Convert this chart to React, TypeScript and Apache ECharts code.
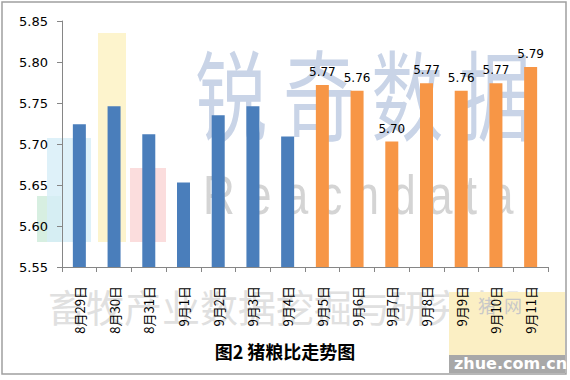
import React, { useEffect, useRef } from "react";
import * as echarts from "echarts";

const categories = ["8月29日", "8月30日", "8月31日", "9月1日", "9月2日", "9月3日", "9月4日", "9月5日", "9月6日", "9月7日", "9月8日", "9月9日", "9月10日", "9月11日"];
const augValues = [5.724, 5.746, 5.712, 5.653, 5.735, 5.746, 5.709];
const sepValues = [5.772, 5.765, 5.703, 5.774, 5.765, 5.774, 5.794];
const yTicks = { min: 5.55, max: 5.85, interval: 0.05 };
const title = "图2 猪粮比走势图";

export default function App() {
  const ref = useRef<HTMLDivElement>(null);
  useEffect(() => {
    const chart = echarts.init(ref.current!, undefined, { renderer: "svg" });
    const n = augValues.length;
    const blueData = categories.map((_, i) => (i < n ? augValues[i] : "-"));
    const orangeData = categories.map((_, i) => (i >= n ? sepValues[i - n] : "-"));
    chart.setOption({
      animation: false,
      backgroundColor: "#ffffff",
      grid: { left: 62, right: 22, top: 21, bottom: 113 },
      graphic: [
        { type: "rect", shape: { x: 2, y: 2, width: 564, height: 372 }, style: { fill: "none", stroke: "#a0a0a0", lineWidth: 1.5 }, z: 0 },
        { type: "rect", shape: { x: 37, y: 196, width: 24, height: 46 }, style: { fill: "#cdebd9", opacity: 0.8 }, z: 0 },
        { type: "rect", shape: { x: 47, y: 138, width: 44, height: 104 }, style: { fill: "#d6eef8", opacity: 0.8 }, z: 0 },
        { type: "rect", shape: { x: 98, y: 33, width: 28, height: 209 }, style: { fill: "#fdf3c8", opacity: 0.9 }, z: 0 },
        { type: "rect", shape: { x: 130, y: 168, width: 36, height: 74 }, style: { fill: "#fbd9d9", opacity: 0.9 }, z: 0 },
        { type: "text", x: 195, y: 42, scaleY: 1.35, style: { text: "锐 奇 数 据", font: "72px 'Noto Sans CJK SC'", fill: "#c9d4e7" }, z: 0 },
        { type: "text", x: 203, y: 168, scaleY: 1.25, style: { text: "R e a c h d a t a", font: "44px 'Liberation Sans'", fill: "#d4d4d4" }, z: 0 },
        { type: "text", x: 48, y: 286, style: { text: "畜牧产业数据挖掘与研究有限", font: "38px 'Noto Sans CJK SC'", fill: "#e0e0e0" }, z: 0 },
        { type: "rect", shape: { x: 449, y: 292, width: 116, height: 63 }, style: { fill: "#fbefc4" }, z: 0 },
        { type: "text", x: 478, y: 296, style: { text: "猪  网", font: "18px 'Noto Sans CJK SC'", fill: "#c8c8c8" }, z: 0 },
        { type: "rect", shape: { x: 449, y: 355, width: 116, height: 18 }, style: { fill: "#a8a8a8" }, z: 0 },
        { type: "text", x: 454, y: 355, style: { text: "zhue.com.cn", font: "bold 16px 'DejaVu Sans'", fill: "#ffffff" }, z: 0 },
        { type: "text", left: "center", top: 342, style: { text: title, font: "bold 18px 'Noto Sans CJK SC'", fill: "#000000" }, z: 10 }
      ],
      xAxis: {
        type: "category",
        data: categories,
        axisLine: { lineStyle: { color: "#868686", width: 1 } },
        axisTick: { show: true, alignWithLabel: false, length: 5, lineStyle: { color: "#868686" } },
        axisLabel: { rotate: 90, interval: 0, color: "#000000", fontSize: 13, fontFamily: "'Noto Sans CJK SC'", margin: 19 }
      },
      yAxis: {
        type: "value",
        min: yTicks.min,
        max: yTicks.max,
        interval: yTicks.interval,
        splitLine: { show: false },
        axisLine: { show: true, lineStyle: { color: "#868686" } },
        axisTick: { show: true, length: 5, lineStyle: { color: "#868686" } },
        axisLabel: { color: "#000000", fontSize: 13, fontFamily: "'DejaVu Sans'", margin: 14, formatter: (v: number) => v.toFixed(2) }
      },
      series: [
        {
          type: "bar",
          data: blueData,
          stack: "a",
          barWidth: 13,
          itemStyle: { color: "#4a7ebb" }
        },
        {
          type: "bar",
          data: orangeData,
          stack: "a",
          barWidth: 13,
          itemStyle: { color: "#f79646" },
          label: {
            show: true,
            position: "top",
            distance: 7,
            color: "#000000",
            fontSize: 12,
            fontFamily: "'DejaVu Sans'",
            formatter: (p: any) => Number(p.value).toFixed(2)
          }
        }
      ]
    });
    return () => chart.dispose();
  }, []);
  return <div ref={ref} style={{ width: 570, height: 380, position: "absolute", left: 0, top: 0 }} />;
}
